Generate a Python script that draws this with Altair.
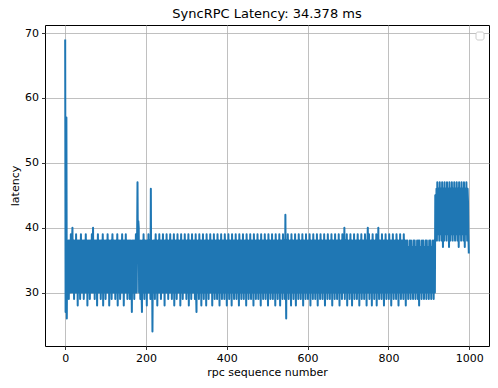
import altair as alt
import pandas as pd

latency = [
    69, 27, 57, 57, 26, 38, 30, 34, 38, 29, 36, 38, 30, 33, 39, 30, 35, 38, 40, 30,
    34, 38, 29, 36, 38, 30, 32, 39, 30, 35, 38, 28, 37, 38, 30, 33, 38, 29, 35, 39,
    30, 34, 38, 30, 36, 38, 29, 33, 38, 30, 35, 39, 30, 32, 38, 28, 36, 38, 30, 34,
    38, 29, 35, 38, 30, 33, 39, 30, 36, 40, 30, 34, 38, 29, 37, 38, 30, 32, 38, 28,
    35, 39, 30, 34, 38, 30, 36, 38, 29, 33, 38, 30, 35, 39, 28, 36, 38, 30, 33, 38,
    29, 35, 38, 30, 34, 39, 30, 36, 38, 28, 33, 38, 30, 35, 38, 29, 37, 39, 30, 34,
    38, 30, 36, 38, 29, 33, 38, 30, 35, 39, 28, 36, 38, 30, 34, 38, 29, 32, 38, 30,
    36, 39, 30, 34, 38, 28, 35, 38, 30, 33, 39, 30, 36, 38, 29, 34, 38, 30, 35, 38,
    29, 36, 38, 30, 33, 27, 38, 35, 30, 38, 34, 29, 38, 36, 30, 39, 33, 30, 38, 47,
    36, 41, 40, 30, 38, 34, 29, 38, 35, 30, 27, 38, 36, 30, 39, 33, 29, 38, 35, 30,
    38, 34, 28, 38, 36, 30, 39, 33, 30, 38, 35, 29, 46, 30, 38, 36, 24, 34, 38, 30,
    35, 38, 29, 36, 39, 30, 33, 38, 28, 35, 38, 30, 34, 39, 30, 36, 38, 29, 33, 38,
    30, 35, 39, 30, 34, 38, 28, 36, 38, 30, 33, 39, 30, 35, 38, 29, 34, 38, 30, 36,
    39, 30, 33, 38, 29, 35, 38, 30, 36, 39, 28, 34, 38, 30, 35, 38, 29, 33, 39, 30,
    36, 38, 30, 34, 38, 28, 35, 39, 30, 33, 38, 29, 36, 38, 30, 34, 39, 30, 35, 38,
    29, 33, 38, 30, 36, 39, 28, 34, 38, 30, 35, 38, 29, 36, 39, 30, 33, 38, 30, 35,
    38, 29, 34, 39, 30, 27, 38, 36, 30, 38, 33, 29, 39, 35, 30, 38, 34, 28, 38, 36,
    30, 39, 33, 29, 38, 35, 30, 38, 36, 28, 39, 34, 30, 38, 35, 29, 38, 33, 30, 39,
    36, 30, 38, 34, 28, 38, 35, 30, 39, 33, 29, 38, 36, 30, 38, 34, 29, 39, 35, 30,
    38, 33, 28, 38, 36, 30, 39, 34, 29, 38, 35, 30, 38, 33, 29, 39, 36, 30, 38, 34,
    28, 38, 35, 30, 39, 33, 29, 38, 36, 30, 38, 34, 28, 39, 35, 30, 38, 33, 29, 38,
    36, 30, 39, 34, 29, 38, 35, 30, 38, 33, 28, 39, 36, 30, 38, 34, 29, 38, 35, 30,
    39, 33, 29, 38, 36, 30, 38, 34, 28, 39, 35, 30, 38, 33, 29, 38, 36, 30, 39, 34,
    29, 38, 35, 30, 38, 33, 28, 39, 36, 30, 38, 34, 29, 38, 35, 30, 39, 33, 29, 38,
    36, 30, 38, 34, 28, 39, 35, 30, 38, 33, 29, 38, 36, 30, 39, 34, 29, 38, 35, 30,
    38, 33, 28, 39, 36, 30, 38, 34, 29, 38, 35, 30, 39, 33, 29, 38, 36, 30, 38, 34,
    28, 39, 35, 30, 38, 33, 29, 38, 36, 30, 39, 34, 28, 38, 35, 30, 38, 33, 29, 39,
    36, 30, 38, 34, 29, 42, 33, 26, 38, 35, 30, 39, 34, 29, 38, 36, 30, 38, 33, 28,
    39, 35, 30, 38, 34, 29, 38, 36, 30, 39, 33, 28, 38, 35, 30, 38, 34, 29, 39, 36,
    30, 38, 33, 29, 38, 35, 30, 39, 34, 28, 38, 36, 30, 38, 33, 29, 39, 35, 30, 38,
    34, 29, 38, 36, 30, 39, 33, 28, 38, 35, 30, 38, 34, 29, 39, 36, 30, 38, 33, 29,
    38, 35, 30, 39, 34, 28, 38, 36, 30, 38, 33, 29, 39, 35, 30, 38, 34, 29, 38, 36,
    30, 39, 33, 28, 38, 35, 30, 38, 34, 29, 39, 36, 30, 38, 33, 29, 38, 35, 30, 39,
    34, 28, 38, 36, 30, 38, 33, 29, 39, 35, 30, 38, 34, 29, 38, 36, 30, 39, 33, 28,
    38, 35, 30, 38, 34, 29, 39, 36, 30, 38, 33, 40, 29, 35, 38, 30, 34, 39, 28, 36,
    38, 30, 33, 38, 29, 35, 39, 30, 34, 38, 28, 36, 38, 30, 33, 39, 29, 35, 38, 30,
    34, 38, 29, 36, 39, 30, 33, 38, 28, 35, 38, 30, 34, 39, 29, 36, 38, 30, 33, 38,
    29, 35, 39, 30, 34, 38, 28, 36, 38, 40, 30, 33, 39, 29, 35, 38, 30, 34, 38, 28,
    36, 39, 30, 33, 38, 29, 35, 38, 30, 34, 39, 28, 36, 38, 30, 40, 33, 29, 38, 35,
    30, 38, 34, 29, 39, 36, 30, 38, 33, 28, 38, 35, 30, 39, 34, 29, 38, 36, 30, 38,
    33, 29, 39, 35, 30, 38, 34, 28, 38, 36, 30, 39, 33, 29, 38, 35, 30, 38, 34, 29,
    39, 36, 30, 38, 33, 28, 38, 35, 30, 39, 34, 29, 38, 36, 30, 38, 33, 29, 39, 35,
    30, 38, 34, 28, 38, 36, 30, 38, 33, 29, 37, 35, 30, 38, 34, 29, 38, 36, 30, 37,
    33, 29, 38, 35, 30, 38, 34, 29, 37, 36, 30, 38, 33, 29, 38, 35, 28, 38, 34, 30,
    37, 36, 29, 38, 33, 30, 38, 35, 29, 37, 34, 30, 38, 36, 29, 38, 33, 30, 37, 35,
    29, 38, 34, 30, 38, 36, 29, 37, 33, 30, 38, 35, 29, 38, 34, 30, 45, 44, 40, 46,
    38, 47, 42, 39, 46, 44, 38, 47, 41, 39, 46, 43, 38, 47, 42, 37, 46, 44, 38, 47,
    41, 39, 46, 43, 38, 47, 42, 39, 46, 44, 37, 47, 41, 38, 46, 43, 39, 47, 42, 38,
    46, 44, 39, 47, 41, 38, 46, 43, 39, 47, 42, 38, 46, 44, 37, 47, 41, 39, 46, 43,
    38, 47, 42, 39, 46, 44, 38, 47, 41, 37, 46, 43, 39, 47, 42, 38, 46, 44, 39, 36,
]
seq = list(range(len(latency)))
x_ticks = [0, 200, 400, 600, 800, 1000]
y_ticks = [30, 40, 50, 60, 70]
title_text = "SyncRPC Latency: 34.378 ms"

df = pd.DataFrame({"seq": seq, "latency": latency})

FONT = "DejaVu Sans"

line = alt.Chart(df).mark_line(
    color="#1f77b4", strokeWidth=2.0, strokeJoin="round", clip=True
).encode(
    x=alt.X("seq:Q",
            scale=alt.Scale(domain=[-49.95, 1048.95], nice=False, zero=False),
            axis=alt.Axis(values=x_ticks, title="rpc sequence number", format="d")),
    y=alt.Y("latency:Q",
            scale=alt.Scale(domain=[21.75, 71.25], nice=False, zero=False),
            axis=alt.Axis(values=y_ticks, title="latency", format="d")),
)

legend_box = alt.Chart(pd.DataFrame({"k": [0]})).mark_rect(
    fill="white", stroke="#cccccc", strokeWidth=1, cornerRadius=2
).encode(
    x=alt.value(431), x2=alt.value(439),
    y=alt.value(7), y2=alt.value(15),
)

chart = alt.layer(line, legend_box).properties(
    width=444,
    height=321,
    title=alt.TitleParams(title_text, fontSize=13, fontWeight="normal",
                          font=FONT, color="black", offset=4, anchor="middle"),
    autosize=alt.AutoSizeParams(type="none"),
    padding={"left": 37, "top": 17, "right": 1, "bottom": 34},
).configure_view(
    stroke="black", strokeWidth=1
).configure_axis(
    domain=False,
    grid=True,
    gridColor="#b0b0b0",
    gridWidth=0.8,
    tickColor="black",
    tickSize=3.5,
    tickWidth=0.8,
    labelColor="black",
    labelFont=FONT,
    labelFontSize=11,
    labelPadding=3,
    titleFont=FONT,
    titleFontSize=11,
    titleFontWeight="normal",
    titleColor="black",
).configure_axisX(
    titlePadding=3
).configure_axisY(
    titlePadding=4
)

chart.save("out.html", embed_options={"renderer": "svg", "actions": False})
